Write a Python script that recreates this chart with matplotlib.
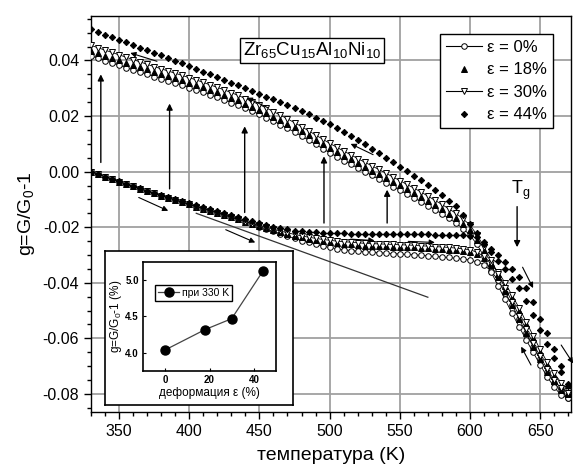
import numpy as np
import matplotlib
matplotlib.use('Agg')
import matplotlib.pyplot as plt
from matplotlib.lines import Line2D

# temperature grid, K (same for heating and cooling branches)
temp = [330, 335, 340, 345, 350, 355, 360, 365, 370, 375, 380, 385, 390, 395, 400,
        405, 410, 415, 420, 425, 430, 435, 440, 445, 450, 455, 460, 465, 470, 475,
        480, 485, 490, 495, 500, 505, 510, 515, 520, 525, 530, 535, 540, 545, 550,
        555, 560, 565, 570, 575, 580, 585, 590, 595, 600, 605, 610, 615, 620, 625,
        630, 635, 640, 645, 650, 655, 660, 665, 670]

# heating branches (lower)
heat_0 = [0.0, -0.0009, -0.0018, -0.0027, -0.0036, -0.0045, -0.0053, -0.0062, -0.0070, -0.0078,
          -0.0086, -0.0094, -0.0102, -0.0110, -0.0118, -0.0126, -0.0133, -0.0141, -0.0148, -0.0156,
          -0.0164, -0.0172, -0.0180, -0.0189, -0.0198, -0.0207, -0.0215, -0.0224, -0.0232, -0.0240,
          -0.0248, -0.0255, -0.0262, -0.0268, -0.0273, -0.0277, -0.0281, -0.0284, -0.0286, -0.0288,
          -0.0290, -0.0292, -0.0293, -0.0295, -0.0296, -0.0298, -0.0299, -0.0301, -0.0303, -0.0305,
          -0.0307, -0.0309, -0.0312, -0.0315, -0.0318, -0.0325, -0.0335, -0.0358, -0.0390, -0.0435,
          -0.0480, -0.0530, -0.0580, -0.0630, -0.0675, -0.0720, -0.0760, -0.0790, -0.0815]
heat_18 = [0.0, -0.0009, -0.0018, -0.0027, -0.0036, -0.0045, -0.0053, -0.0062, -0.0070, -0.0078,
           -0.0086, -0.0094, -0.0102, -0.0110, -0.0118, -0.0126, -0.0133, -0.0141, -0.0148, -0.0156,
           -0.0164, -0.0172, -0.0180, -0.0188, -0.0195, -0.0203, -0.0210, -0.0217, -0.0224, -0.0230,
           -0.0236, -0.0241, -0.0246, -0.0250, -0.0254, -0.0257, -0.0260, -0.0262, -0.0264, -0.0266,
           -0.0267, -0.0268, -0.0269, -0.0270, -0.0271, -0.0272, -0.0273, -0.0275, -0.0276, -0.0278,
           -0.0279, -0.0281, -0.0283, -0.0286, -0.0289, -0.0297, -0.0310, -0.0335, -0.0370, -0.0410,
           -0.0455, -0.0500, -0.0550, -0.0600, -0.0650, -0.0695, -0.0735, -0.0770, -0.0795]
heat_30 = [0.0, -0.0009, -0.0018, -0.0027, -0.0036, -0.0045, -0.0053, -0.0062, -0.0070, -0.0078,
           -0.0086, -0.0094, -0.0102, -0.0110, -0.0118, -0.0126, -0.0133, -0.0141, -0.0148, -0.0156,
           -0.0164, -0.0172, -0.0180, -0.0187, -0.0193, -0.0200, -0.0207, -0.0214, -0.0220, -0.0226,
           -0.0231, -0.0236, -0.0240, -0.0244, -0.0247, -0.0250, -0.0252, -0.0254, -0.0256, -0.0258,
           -0.0259, -0.0260, -0.0261, -0.0262, -0.0263, -0.0264, -0.0265, -0.0267, -0.0268, -0.0270,
           -0.0271, -0.0273, -0.0275, -0.0278, -0.0281, -0.0290, -0.0305, -0.0330, -0.0360, -0.0400,
           -0.0445, -0.0490, -0.0540, -0.0590, -0.0640, -0.0685, -0.0725, -0.0760, -0.0790]
heat_44 = [0.0, -0.0009, -0.0018, -0.0027, -0.0035, -0.0044, -0.0052, -0.0060, -0.0068, -0.0076,
           -0.0083, -0.0091, -0.0098, -0.0106, -0.0113, -0.0120, -0.0127, -0.0134, -0.0141, -0.0148,
           -0.0155, -0.0163, -0.0170, -0.0178, -0.0185, -0.0192, -0.0198, -0.0203, -0.0208, -0.0212,
           -0.0215, -0.0217, -0.0219, -0.0220, -0.0221, -0.0222, -0.0222, -0.0223, -0.0223, -0.0224,
           -0.0224, -0.0224, -0.0225, -0.0225, -0.0225, -0.0226, -0.0226, -0.0226, -0.0226, -0.0227,
           -0.0227, -0.0227, -0.0228, -0.0229, -0.0231, -0.0236, -0.0255, -0.0278, -0.0300, -0.0325,
           -0.0350, -0.0380, -0.0420, -0.0470, -0.0530, -0.0580, -0.0640, -0.0700, -0.0765]

# cooling branches (upper), same temperature grid
cool_0 = [0.0416, 0.0408, 0.0399, 0.0391, 0.0382, 0.0374, 0.0366, 0.0358, 0.0350, 0.0342,
          0.0334, 0.0326, 0.0318, 0.0310, 0.0302, 0.0294, 0.0285, 0.0276, 0.0267, 0.0258,
          0.0248, 0.0238, 0.0228, 0.0217, 0.0206, 0.0194, 0.0182, 0.0169, 0.0156, 0.0142,
          0.0128, 0.0113, 0.0098, 0.0083, 0.0068, 0.0054, 0.0040, 0.0027, 0.0013, 0.0000,
          -0.0013, -0.0027, -0.0040, -0.0054, -0.0067, -0.0081, -0.0094, -0.0108, -0.0122, -0.0137,
          -0.0152, -0.0168, -0.0185, -0.0205, -0.0228, -0.0262, -0.0305, -0.0360, -0.0410, -0.0460,
          -0.0510, -0.0558, -0.0605, -0.0650, -0.0695, -0.0738, -0.0775, -0.0805, -0.0815]
cool_18 = [0.0434, 0.0426, 0.0417, 0.0409, 0.0400, 0.0392, 0.0384, 0.0376, 0.0368, 0.0360,
           0.0352, 0.0344, 0.0336, 0.0328, 0.0320, 0.0312, 0.0303, 0.0294, 0.0285, 0.0276,
           0.0266, 0.0256, 0.0245, 0.0234, 0.0223, 0.0211, 0.0198, 0.0185, 0.0172, 0.0159,
           0.0145, 0.0130, 0.0115, 0.0100, 0.0085, 0.0071, 0.0057, 0.0044, 0.0030, 0.0017,
           0.0004, -0.0009, -0.0022, -0.0036, -0.0049, -0.0063, -0.0076, -0.0090, -0.0105, -0.0120,
           -0.0135, -0.0151, -0.0168, -0.0188, -0.0210, -0.0245, -0.0285, -0.0330, -0.0380, -0.0430,
           -0.0480, -0.0530, -0.0580, -0.0630, -0.0675, -0.0720, -0.0755, -0.0785, -0.0800]
cool_30 = [0.0454, 0.0446, 0.0437, 0.0429, 0.0420, 0.0412, 0.0403, 0.0395, 0.0386, 0.0378,
           0.0370, 0.0362, 0.0354, 0.0346, 0.0338, 0.0330, 0.0321, 0.0312, 0.0303, 0.0294,
           0.0284, 0.0274, 0.0263, 0.0252, 0.0241, 0.0229, 0.0216, 0.0203, 0.0190, 0.0176,
           0.0162, 0.0147, 0.0132, 0.0117, 0.0102, 0.0088, 0.0074, 0.0061, 0.0047, 0.0034,
           0.0021, 0.0008, -0.0005, -0.0019, -0.0032, -0.0046, -0.0059, -0.0073, -0.0088, -0.0103,
           -0.0118, -0.0134, -0.0150, -0.0170, -0.0192, -0.0228, -0.0270, -0.0318, -0.0368, -0.0418,
           -0.0468, -0.0518, -0.0568, -0.0618, -0.0665, -0.0710, -0.0750, -0.0780, -0.0795]
cool_44 = [0.0512, 0.0503, 0.0493, 0.0484, 0.0474, 0.0465, 0.0455, 0.0446, 0.0437, 0.0427,
           0.0418, 0.0408, 0.0399, 0.0390, 0.0380, 0.0370, 0.0360, 0.0350, 0.0340, 0.0330,
           0.0320, 0.0310, 0.0300, 0.0290, 0.0280, 0.0270, 0.0260, 0.0249, 0.0238, 0.0228,
           0.0218, 0.0206, 0.0194, 0.0182, 0.0170, 0.0156, 0.0142, 0.0128, 0.0113, 0.0098,
           0.0083, 0.0067, 0.0050, 0.0034, 0.0018, 0.0002, -0.0015, -0.0031, -0.0048, -0.0066,
           -0.0085, -0.0105, -0.0125, -0.0155, -0.0188, -0.0222, -0.0262, -0.0290, -0.0320, -0.0350,
           -0.0385, -0.0420, -0.0465, -0.0515, -0.0570, -0.0620, -0.0670, -0.0720, -0.0770]

# inset: g at 330 K vs deformation
strain = [0, 18, 30, 44]
g330 = [4.04, 4.32, 4.47, 5.12]

# arrows: (T_tail, g_tail, T_head, g_head)
up_arrows = [(337, 0.0033, 337, 0.0350), (386, -0.0062, 386, 0.0245),
             (439.5, -0.0147, 439.5, 0.0163), (496, -0.0185, 496, 0.0055),
             (541, -0.0185, 541, -0.0065)]
dir_arrows = [(377, 0.0397, 358, 0.0427), (456, 0.0230, 441, 0.0266),
              (531, 0.0061, 515, 0.0100), (364, -0.0093, 385, -0.0141),
              (426, -0.0209, 447, -0.0255), (515, -0.0243, 532, -0.0248),
              (556, -0.0251, 575, -0.0255), (637.5, -0.0344, 645, -0.0419),
              (643.5, -0.0696, 636.5, -0.0630), (665, -0.0624, 673.5, -0.0690)]
tg_arrow = (633.6, -0.0126, 633.6, -0.0272)
tangent_T = [405, 570]
tangent_g = [-0.0150, -0.0452]

plt.rcParams['font.family'] = ['Liberation Sans', 'DejaVu Sans']
plt.rcParams['mathtext.default'] = 'regular'

fig = plt.figure(figsize=(5.73, 4.72), dpi=100)
ax = fig.add_axes([91/573, 60/472, 480/573, 396/472])

styles = [('ε = 0%', heat_0, cool_0, dict(marker='o', mfc='white', ls='-', lw=0.6)),
          ('ε = 18%', heat_18, cool_18, dict(marker='^', mfc='black', ls='none')),
          ('ε = 30%', heat_30, cool_30, dict(marker='v', mfc='white', ls='-', lw=0.6)),
          ('ε = 44%', heat_44, cool_44, dict(marker='D', mfc='black', ls='none'))]

handles = []
for label, h, c, st in styles:
    x = temp + temp[::-1]
    y = h + c[::-1]
    ms = 3.2 if st['marker'] == 'D' else 4.0
    ax.plot(x, y, color='black', mec='black', mew=0.7, ms=ms, zorder=3, **st)
    handles.append(Line2D([], [], color='black', mec='black', mew=0.7, ms=ms,
                          **{**st, 'lw': 0.8} if st['ls'] == '-' else st))

for t0, g0, t1, g1 in up_arrows:
    ax.annotate('', xy=(t1, g1), xytext=(t0, g0),
                arrowprops=dict(arrowstyle='-|>', color='black', lw=1.0,
                                mutation_scale=9, shrinkA=0, shrinkB=0), zorder=4)
for t0, g0, t1, g1 in dir_arrows:
    ax.annotate('', xy=(t1, g1), xytext=(t0, g0),
                arrowprops=dict(arrowstyle='-|>', color='black', lw=0.8,
                                mutation_scale=8, shrinkA=0, shrinkB=0),
                zorder=4, annotation_clip=False)
ax.annotate('', xy=(tg_arrow[2], tg_arrow[3]), xytext=(tg_arrow[0], tg_arrow[1]),
            arrowprops=dict(arrowstyle='-|>', color='black', lw=1.0,
                            mutation_scale=9, shrinkA=0, shrinkB=0), zorder=4)
ax.text(636, -0.0068, 'T$_g$', fontsize=13, ha='center', va='center')
ax.plot(tangent_T, tangent_g, color='#333333', lw=0.9, zorder=2)

ax.set_xlim(330, 672)
ax.set_ylim(-0.0865, 0.056)
ax.set_xticks([350, 400, 450, 500, 550, 600, 650])
ax.set_xticks(np.arange(330, 672, 10), minor=True)
ax.set_yticks([-0.08, -0.06, -0.04, -0.02, 0.00, 0.02, 0.04])
ax.set_yticks(np.arange(-0.085, 0.056, 0.005), minor=True)
ax.set_yticklabels(['-0.08', '-0.06', '-0.04', '-0.02', '0.00', '0.02', '0.04'])
ax.tick_params(direction='out', labelsize=11.5, length=5, width=1)
ax.tick_params(which='minor', direction='out', length=3, width=1)
ax.grid(True, which='major', color='#a0a0a0', lw=1.3, zorder=0)
ax.set_axisbelow(True)
for s in ax.spines.values():
    s.set_linewidth(1.0)
ax.set_xlabel('температура (K)', fontsize=14, labelpad=6)
ax.set_ylabel('g=G/G$_0$-1', fontsize=14, labelpad=4)

leg = ax.legend(handles, [s[0] for s in styles], loc='upper right',
                bbox_to_anchor=(0.9625, 0.9545), borderaxespad=0, fontsize=12,
                fancybox=False, edgecolor='black', framealpha=1, handlelength=2.2,
                handletextpad=0.3, labelspacing=0.45, borderpad=0.35)
leg.get_frame().set_linewidth(1.0)

ax.text(0.46, 0.913, 'Zr$_{65}$Cu$_{15}$Al$_{10}$Ni$_{10}$', transform=ax.transAxes,
        fontsize=13.5, ha='center', va='center', zorder=5,
        bbox=dict(boxstyle='square,pad=0.15', fc='white', ec='black', lw=1.0))

# inset frame and inset plot
box = fig.add_axes([105/573, 67/472, 188/573, 154/472])
box.set_xticks([])
box.set_yticks([])
box.set_facecolor('white')
for s in box.spines.values():
    s.set_linewidth(1.2)

ins = fig.add_axes([143/573, 101/472, 133/573, 109/472])
ins.plot(strain, g330, color='#444444', lw=0.9, marker='o', ms=6.5,
         mfc='black', mec='black', label='при 330 K')
ins.set_xlim(-10, 50)
ins.set_ylim(3.75, 5.25)
ins.set_xticks([0, 20, 40])
ins.set_yticks([4.0, 4.5, 5.0])
ins.set_yticklabels(['4.0', '4.5', '5.0'])
ins.tick_params(direction='in', labelsize=7, length=2.5, width=0.8, pad=3)
for lab in ins.get_xticklabels() + ins.get_yticklabels():
    lab.set_fontweight('bold')
for s in ins.spines.values():
    s.set_linewidth(1.2)
ins.set_xlabel('деформация ε (%)', fontsize=8.5, labelpad=1)
ins.set_ylabel('g=G/G$_0$-1 (%)', fontsize=8.5, labelpad=1)
il = ins.legend(loc='upper left', bbox_to_anchor=(0.09, 0.79), borderaxespad=0,
                fontsize=7.5, fancybox=False, edgecolor='black', framealpha=1,
                handlelength=2.0, handletextpad=0.3, borderpad=0.3)
il.get_frame().set_linewidth(1.0)

fig.savefig('out.png', dpi=100)
